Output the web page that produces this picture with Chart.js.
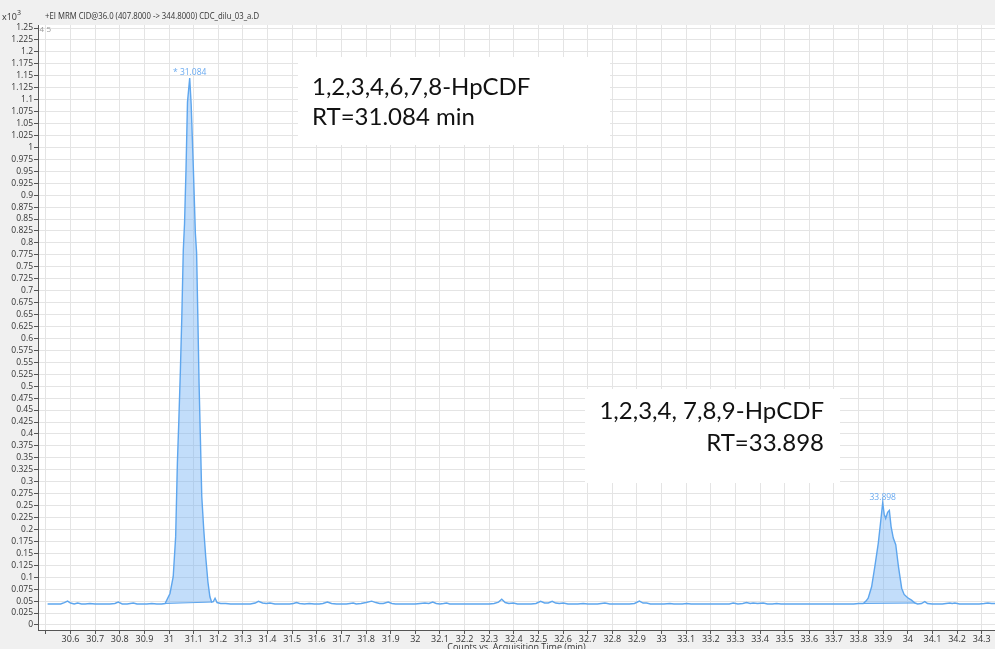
<!DOCTYPE html>
<html>
<head>
<meta charset="utf-8">
<script src="https://cdn.jsdelivr.net/npm/chart.js@4.4.1/dist/chart.umd.min.js"></script>
<style>
  html, body { margin: 0; padding: 0; background: #f0f0f0; overflow: hidden; }
  #wrap { width: 995px; height: 649px; overflow: hidden; }
  canvas { display: block; }
</style>
</head>
<body>
<div id="wrap"><canvas id="chrom" width="995" height="660"></canvas></div>
<script>
// MRM trace: acquisition time (min) and counts (x10^3)
const timeMin = [
  30.507, 30.53, 30.56, 30.575, 30.588, 30.60, 30.615, 30.629, 30.645, 30.66,
  30.679, 30.70, 30.72, 30.74, 30.76, 30.78, 30.794, 30.81, 30.83, 30.855,
  30.87, 30.89, 30.91, 30.93, 30.95, 30.97, 30.984,
  31.004, 31.017, 31.027, 31.034, 31.040, 31.046, 31.052, 31.058, 31.063, 31.069,
  31.075, 31.084, 31.090, 31.099, 31.107, 31.112, 31.117, 31.122, 31.127, 31.133,
  31.141, 31.149, 31.158, 31.166, 31.173,
  31.180, 31.187, 31.195, 31.21, 31.23, 31.25, 31.27, 31.29, 31.31, 31.33,
  31.35, 31.363, 31.38, 31.395, 31.41, 31.43, 31.45, 31.47, 31.49, 31.505,
  31.518, 31.53, 31.55, 31.57, 31.59, 31.61, 31.625, 31.643, 31.66, 31.68,
  31.70, 31.72, 31.735, 31.748, 31.76, 31.78, 31.80, 31.823, 31.84, 31.855,
  31.87, 31.89, 31.905, 31.92, 31.94, 31.96, 31.98, 32.00, 32.02, 32.039,
  32.055, 32.071, 32.085, 32.10, 32.115, 32.127, 32.14, 32.16, 32.18, 32.20,
  32.22, 32.24, 32.26, 32.28, 32.30, 32.32, 32.338, 32.351, 32.365, 32.38,
  32.398, 32.415, 32.43, 32.45, 32.47, 32.49, 32.509, 32.525, 32.54, 32.556,
  32.57, 32.585, 32.601, 32.62, 32.64, 32.66, 32.682, 32.70, 32.72, 32.74,
  32.755, 32.77, 32.79, 32.81, 32.83, 32.85, 32.87, 32.89, 32.910, 32.925,
  32.939, 32.955, 32.97, 32.99, 33.01, 33.034, 33.05, 33.07, 33.085, 33.102,
  33.12, 33.14, 33.16, 33.18, 33.20, 33.22, 33.24, 33.26, 33.275, 33.291,
  33.31, 33.33, 33.345, 33.36, 33.372, 33.39, 33.413, 33.43, 33.45, 33.467,
  33.485, 33.50, 33.52, 33.54, 33.56, 33.58, 33.60, 33.62, 33.64, 33.66,
  33.68, 33.70, 33.72, 33.74, 33.76, 33.78, 33.80, 33.819,
  33.83, 33.839, 33.853, 33.866, 33.880, 33.889, 33.898, 33.904, 33.910, 33.918,
  33.925, 33.932, 33.941, 33.951, 33.962, 33.975, 33.985, 33.995, 34.005, 34.015,
  34.029,
  34.04, 34.055, 34.069, 34.08, 34.10, 34.12, 34.14, 34.155, 34.171, 34.18,
  34.191, 34.21, 34.23, 34.25, 34.27, 34.29, 34.31, 34.325, 34.34, 34.354
];
const counts = [
  0.044, 0.044, 0.044, 0.047, 0.050, 0.046, 0.044, 0.046, 0.044, 0.044,
  0.045, 0.044, 0.044, 0.044, 0.044, 0.045, 0.048, 0.044, 0.044, 0.046,
  0.044, 0.044, 0.044, 0.045, 0.044, 0.044, 0.045,
  0.066, 0.101, 0.185, 0.339, 0.430, 0.530, 0.646, 0.785, 0.840, 0.953,
  1.095, 1.145, 1.090, 0.953, 0.820, 0.780, 0.646, 0.506, 0.400, 0.269,
  0.200, 0.143, 0.090, 0.059, 0.048,
  0.049, 0.056, 0.047, 0.045, 0.045, 0.044, 0.044, 0.044, 0.044, 0.044,
  0.046, 0.0495, 0.046, 0.045, 0.046, 0.044, 0.044, 0.044, 0.044, 0.045,
  0.047, 0.045, 0.044, 0.045, 0.044, 0.044, 0.045, 0.048, 0.045, 0.044,
  0.044, 0.044, 0.045, 0.046, 0.044, 0.045, 0.047, 0.050, 0.047, 0.045,
  0.045, 0.048, 0.045, 0.044, 0.044, 0.044, 0.044, 0.044, 0.045, 0.046,
  0.045, 0.048, 0.045, 0.044, 0.045, 0.046, 0.044, 0.044, 0.044, 0.044,
  0.044, 0.044, 0.044, 0.044, 0.044, 0.045, 0.048, 0.054, 0.047, 0.045,
  0.046, 0.044, 0.044, 0.044, 0.044, 0.045, 0.0495, 0.046, 0.046, 0.0495,
  0.046, 0.045, 0.046, 0.044, 0.044, 0.044, 0.045, 0.044, 0.044, 0.044,
  0.045, 0.046, 0.044, 0.044, 0.044, 0.044, 0.044, 0.045, 0.050, 0.046,
  0.046, 0.044, 0.044, 0.044, 0.044, 0.045, 0.044, 0.044, 0.044, 0.045,
  0.044, 0.044, 0.044, 0.044, 0.044, 0.044, 0.044, 0.044, 0.044, 0.046,
  0.044, 0.045, 0.047, 0.045, 0.046, 0.045, 0.046, 0.044, 0.044, 0.045,
  0.044, 0.044, 0.044, 0.044, 0.044, 0.044, 0.044, 0.044, 0.044, 0.044,
  0.044, 0.044, 0.044, 0.044, 0.044, 0.044, 0.045, 0.045,
  0.050, 0.056, 0.080, 0.122, 0.171, 0.213, 0.256, 0.232, 0.223, 0.236,
  0.240, 0.206, 0.182, 0.168, 0.122, 0.077, 0.064, 0.059, 0.055, 0.052,
  0.046,
  0.044, 0.045, 0.049, 0.045, 0.044, 0.044, 0.044, 0.045, 0.046, 0.045,
  0.046, 0.044, 0.044, 0.044, 0.044, 0.044, 0.045, 0.046, 0.045, 0.045
];

// Integrated peaks: integration window and apex
const peakStart = [30.984, 33.819];
const peakEnd   = [31.173, 34.029];
const peakRT    = [31.084, 33.898];
const peakApex  = [1.145, 0.256];
const peakTags  = ['* 31.084', '33.898'];

// Compound callouts
const calloutLines = [
  ['1,2,3,4,6,7,8-HpCDF', 'RT=31.084 min'],
  ['1,2,3,4, 7,8,9-HpCDF', 'RT=33.898']
];

// Axis ranges and tick steps
const xRange = [30.468, 34.354];
const yRange = [-0.0105, 1.2563];
const xStep = 0.1;
const yStep = 0.025;

const headerText = '+EI MRM CID@36.0 (407.8000 -> 344.8000) CDC_dilu_03_a.D';
const axisTitle = 'Counts vs. Acquisition Time (min)';

const LINE = '#5ea6ee';
const FILL = 'rgba(120,180,245,0.45)';

const tracePts = timeMin.map((t, i) => ({ x: t, y: counts[i] }));
function windowPts(a, b) {
  return tracePts.filter(p => p.x >= a - 1e-9 && p.x <= b + 1e-9);
}

const datasets = [{
  data: tracePts, borderColor: LINE, borderWidth: 1.4, pointRadius: 0,
  tension: 0, fill: false
}];
peakStart.forEach((s, k) => {
  const area = windowPts(s, peakEnd[k]);
  const chord = [area[0], area[area.length - 1]];
  const chordIdx = datasets.length;
  datasets.push({
    data: chord, borderColor: LINE, borderWidth: 1, pointRadius: 0, tension: 0, fill: false
  });
  datasets.push({
    data: area, borderWidth: 0, borderColor: 'rgba(0,0,0,0)', pointRadius: 0, tension: 0,
    backgroundColor: FILL, fill: { target: chordIdx, above: FILL, below: FILL }
  });
});

Chart.defaults.font.family = "'Open Sans', 'Noto Sans', sans-serif";

const backdrop = {
  id: 'backdrop',
  beforeDraw(chart) {
    const { ctx, chartArea: a } = chart;
    ctx.save();
    ctx.fillStyle = '#f0f0f0';
    ctx.fillRect(0, 0, chart.width, chart.height);
    ctx.fillStyle = '#ffffff';
    ctx.fillRect(a.left, a.top, a.right - a.left, a.bottom - a.top);
    ctx.restore();
  }
};

const callouts = {
  id: 'callouts',
  beforeDatasetsDraw(chart) {
    const ctx = chart.ctx;
    ctx.save();
    // header
    ctx.fillStyle = '#333';
    ctx.textBaseline = 'middle';
    ctx.textAlign = 'left';
    ctx.font = "9px 'Open Sans'";
    ctx.fillText('x10', 2, 17);
    ctx.font = "7px 'Open Sans'";
    ctx.fillText('3', 17, 13);
    ctx.font = "9px 'Open Sans'";
    ctx.fillText(headerText, 45, 16.5, 214);
    ctx.fillStyle = '#999';
    ctx.font = "8px 'Open Sans'";
    ctx.fillText('4', 39.5, 30);
    ctx.fillText('5', 46.5, 30);

    // compound boxes
    const boxes = [
      { x: 298, y: 57, w: 312, h: 88, tx: 312, align: 'left', ys: [87, 117] },
      { x: 585, y: 389, w: 255, h: 94, tx: 824, align: 'right', ys: [411, 443] }
    ];
    boxes.forEach((b, k) => {
      ctx.fillStyle = '#ffffff';
      ctx.fillRect(b.x, b.y, b.w, b.h);
      ctx.fillStyle = '#111';
      ctx.font = "24px Lato";
      ctx.textAlign = b.align;
      ctx.textBaseline = 'middle';
      calloutLines[k].forEach((s, j) => ctx.fillText(s, b.tx, b.ys[j]));
    });
    ctx.restore();
  },
  afterDatasetsDraw(chart) {
    const { ctx, scales: { x, y } } = chart;
    ctx.save();
    ctx.fillStyle = '#6aaaf0';
    ctx.font = "8.5px 'Open Sans'";
    ctx.textAlign = 'center';
    ctx.textBaseline = 'bottom';
    peakRT.forEach((rt, k) => {
      ctx.fillText(peakTags[k], x.getPixelForValue(rt), y.getPixelForValue(peakApex[k]) - 1);
    });
    ctx.restore();
  }
};

new Chart(document.getElementById('chrom'), {
  type: 'line',
  data: { datasets },
  plugins: [backdrop, callouts],
  options: {
    responsive: false,
    animation: false,
    events: [],
    devicePixelRatio: 1,
    layout: { autoPadding: false, padding: { top: 25, left: 0, right: 0, bottom: 0 } },
    plugins: {
      legend: { display: false },
      tooltip: { enabled: false },
      filler: { propagate: false }
    },
    scales: {
      x: {
        type: 'linear',
        min: xRange[0], max: xRange[1],
        afterFit(s) { s.height = 30; },
        border: { display: true, color: '#555', width: 1 },
        grid: { color: '#e4e4e4', lineWidth: 1, tickLength: 4, tickColor: '#555' },
        ticks: {
          stepSize: xStep, includeBounds: false, autoSkip: false, maxRotation: 0,
          padding: 0, color: '#333', font: { size: 9 },
          callback(v) { return v - this.min < 0.05 ? '' : String(+v.toFixed(1)); }
        },
        title: {
          display: true, text: axisTitle, color: '#333',
          font: { size: 9 }, padding: { top: 0, bottom: 7 }
        }
      },
      y: {
        type: 'linear',
        min: yRange[0], max: yRange[1],
        afterFit(s) { s.width = 38; },
        border: { display: true, color: '#555', width: 1 },
        grid: { color: '#e4e4e4', lineWidth: 1, tickLength: 4, tickColor: '#555' },
        ticks: {
          stepSize: yStep, includeBounds: false, autoSkip: false,
          padding: 1, color: '#333', font: { size: 8.5 },
          callback(v) { return String(+v.toFixed(3)); }
        }
      }
    }
  }
});
</script>
</body>
</html>
